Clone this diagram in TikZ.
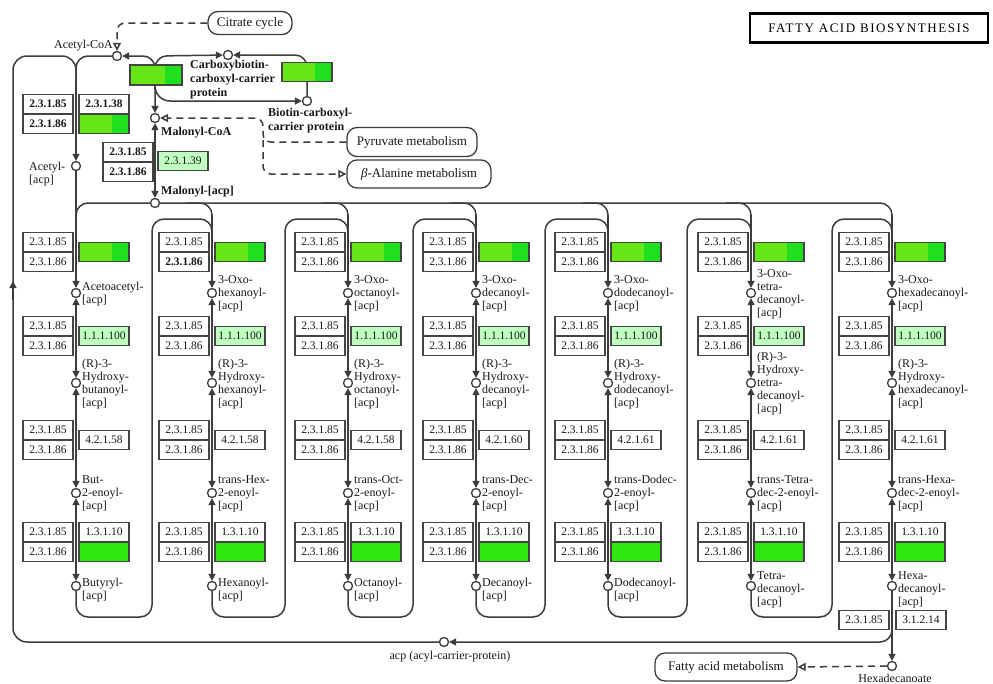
\documentclass[tikz,border=0pt]{standalone}
\usepackage{fontspec}
\setmainfont{Liberation Serif}
\newfontfamily\titlefont[LetterSpace=12]{Liberation Serif}
\usetikzlibrary{arrows.meta,backgrounds}
\definecolor{lc}{HTML}{3C3C3C}
\definecolor{bc}{HTML}{444444}
\definecolor{gA}{HTML}{66E614}
\definecolor{gB}{HTML}{1EE01E}
\definecolor{gD}{HTML}{2DE80C}
\definecolor{gL}{HTML}{C0FFC0}
\definecolor{tc}{HTML}{181818}
\tikzset{
 >={Triangle[length=7pt,width=7pt]},
 ln/.style={draw=lc, line width=1.5pt},
 ec/.style={draw=bc, line width=1.3pt, fill=white, minimum width=50pt, minimum height=19pt, inner sep=0pt, font=\fontsize{11.5}{12}\selectfont, text=tc},
 ecl/.style={ec, fill=gL},
 ecg/.style={ec, fill=gA, path picture={\fill[gB] ([xshift=-17pt]path picture bounding box.north east) rectangle (path picture bounding box.south east);}},
 ecd/.style={ec, fill=gD},
 cpd/.style={circle, draw=lc, line width=1.3pt, fill=white, inner sep=0pt, minimum size=9pt},
 lbl/.style={anchor=west, align=left, font=\fontsize{12}{13}\selectfont, text=tc, inner sep=0pt},
 blbl/.style={lbl, font=\fontsize{12}{14}\selectfont\bfseries},
 pw/.style={draw=lc, line width=1.3pt, rounded corners=10pt, fill=white, font=\fontsize{13}{14}\selectfont, text=tc, inner sep=0pt},
 dsh/.style={ln, dash pattern=on 7pt off 5pt},
 oarr/.style={-{Triangle[open,length=8pt,width=8pt,fill=white]}},
}
\newcommand\fabcol[8]{%
 \node[ec] at (#2-28,242) {2.3.1.85};
 \node[ec] at (#2-28,262) {#8};
 \node[ecg] at (#2+28,252) {};
 \node[ec] at (#2-28,326) {2.3.1.85};
 \node[ec] at (#2-28,346) {2.3.1.86};
 \node[ecl] at (#2+28,336) {1.1.1.100};
 \node[ec] at (#2-28,430) {2.3.1.85};
 \node[ec] at (#2-28,450) {2.3.1.86};
 \node[ec] at (#2+28,440) {#7};
 \node[ec] at (#2-28,532) {2.3.1.85};
 \node[ec] at (#2-28,552) {2.3.1.86};
 \node[ec] at (#2+28,532) {1.3.1.10};
 \node[ecd] at (#2+28,552) {};
 \node[cpd] (#1a) at (#2,293) {};
 \node[cpd] (#1b) at (#2,383) {};
 \node[cpd] (#1c) at (#2,493) {};
 \node[cpd] (#1d) at (#2,586) {};
 \node[lbl] at (#2+6,294) {#3};
 \node[lbl] at (#2+6,384) {#4};
 \node[lbl] at (#2+6,494) {#5};
 \node[lbl] at (#2+6,590) {#6};
 \begin{pgfonlayer}{background}
 \draw[ln,<->] (#1a) -- (#1b);
 \draw[ln,<->] (#1b) -- (#1c);
 \draw[ln,<->] (#1c) -- (#1d);
 \end{pgfonlayer}
}
\begin{document}
\begin{tikzpicture}[x=1pt,y=-1pt]
\begin{pgfonlayer}{background}
\fill[white] (0,0) rectangle (993,683);
\end{pgfonlayer}
\useasboundingbox (0,0) rectangle (993,683);

% title
\node[draw=black, line width=2.4pt, minimum width=238pt, minimum height=29pt, inner sep=0pt] (title) at (869,28) {\titlefont\fontsize{13}{15}\selectfont FATTY ACID BIOSYNTHESIS};

% compounds
\node[cpd] (AcCoA) at (117,56) {};
\node[cpd] (CBCP) at (228,55) {};
\node[cpd] (BCCP) at (307,101) {};
\node[cpd] (MalCoA) at (155,118) {};
\node[cpd] (MalACP) at (155,203) {};
\node[cpd] (AcACP) at (76,166) {};
\node[cpd] (acp) at (444,642) {};
\node[cpd] (hexa) at (892,666) {};

\node[lbl, anchor=east] (lAcCoA) at (113,46) {Acetyl-CoA};
\node[blbl] (lCBCP) at (190,80) {Carboxybiotin-\\carboxyl-carrier\\protein};
\node[blbl] (lBCCP) at (268,121) {Biotin-carboxyl-\\carrier protein};
\node[blbl] (lMalCoA) at (161,133) {Malonyl-CoA};
\node[blbl] (lMalACP) at (161,192) {Malonyl-[acp]};
\node[lbl] (lAcACP) at (29,174) {Acetyl-\\{}[acp]};
\node[lbl, anchor=center] (lacp) at (450,657) {acp (acyl-carrier-protein)};
\node[lbl, anchor=center] (lhexa) at (895,678) {Hexadecanoate};

% pathway boxes
\node[pw, minimum width=84pt, minimum height=23pt] (cit) at (250,23) {Citrate cycle};
\node[pw, minimum width=130pt, minimum height=29pt] (pyr) at (412,142) {Pyruvate metabolism};
\node[pw, minimum width=144pt, minimum height=28pt] (bal) at (419,174) {{\itshape β}-Alanine metabolism};
\node[pw, minimum width=142pt, minimum height=28pt] (fam) at (726,667) {Fatty acid metabolism};

% enzymes top
\node[ecg, minimum width=52pt, minimum height=20pt] (acc1) at (156,75) {};
\node[ecg] (acc2) at (307,72) {};
\node[ec, font=\fontsize{11.5}{12}\selectfont\bfseries] (e1) at (48,104) {2.3.1.85};
\node[ec, font=\fontsize{11.5}{12}\selectfont\bfseries] (e2) at (104,104) {2.3.1.38};
\node[ec, font=\fontsize{11.5}{12}\selectfont\bfseries] (e3) at (48,124) {2.3.1.86};
\node[ecg] (e4) at (104,124) {};
\node[ec, font=\fontsize{11.5}{12}\selectfont\bfseries] (e5) at (128,152) {2.3.1.85};
\node[ec, font=\fontsize{11.5}{12}\selectfont\bfseries] (e6) at (128,172) {2.3.1.86};
\node[ecl] (e7) at (183,161) {2.3.1.39};

% columns
\fabcol{c1}{76}{Acetoacetyl-\\{}[acp]}{(R)-3-\\Hydroxy-\\butanoyl-\\{}[acp]}{But-\\2-enoyl-\\{}[acp]}{Butyryl-\\{}[acp]}{4.2.1.58}{2.3.1.86}
\fabcol{c2}{212}{3-Oxo-\\hexanoyl-\\{}[acp]}{(R)-3-\\Hydroxy-\\hexanoyl-\\{}[acp]}{trans-Hex-\\2-enoyl-\\{}[acp]}{Hexanoyl-\\{}[acp]}{4.2.1.58}{\bfseries 2.3.1.86}
\fabcol{c3}{348}{3-Oxo-\\octanoyl-\\{}[acp]}{(R)-3-\\Hydroxy-\\octanoyl-\\{}[acp]}{trans-Oct-\\2-enoyl-\\{}[acp]}{Octanoyl-\\{}[acp]}{4.2.1.58}{2.3.1.86}
\fabcol{c4}{476}{3-Oxo-\\decanoyl-\\{}[acp]}{(R)-3-\\Hydroxy-\\decanoyl-\\{}[acp]}{trans-Dec-\\2-enoyl-\\{}[acp]}{Decanoyl-\\{}[acp]}{4.2.1.60}{2.3.1.86}
\fabcol{c5}{608}{3-Oxo-\\dodecanoyl-\\{}[acp]}{(R)-3-\\Hydroxy-\\dodecanoyl-\\{}[acp]}{trans-Dodec-\\2-enoyl-\\{}[acp]}{Dodecanoyl-\\{}[acp]}{4.2.1.61}{2.3.1.86}
\fabcol{c6}{751}{3-Oxo-\\tetra-\\decanoyl-\\{}[acp]}{(R)-3-\\Hydroxy-\\tetra-\\decanoyl-\\{}[acp]}{trans-Tetra-\\dec-2-enoyl-\\{}[acp]}{Tetra-\\decanoyl-\\{}[acp]}{4.2.1.61}{2.3.1.86}
\fabcol{c7}{892}{3-Oxo-\\hexadecanoyl-\\{}[acp]}{(R)-3-\\Hydroxy-\\hexadecanoyl-\\{}[acp]}{trans-Hexa-\\dec-2-enoyl-\\{}[acp]}{Hexa-\\decanoyl-\\{}[acp]}{4.2.1.61}{2.3.1.86}
\node[ec] (e8) at (864,620) {2.3.1.85};
\node[ec] (e9) at (921,620) {3.1.2.14};

\begin{pgfonlayer}{background}
% top main line and branches
\draw[ln, rounded corners=12pt] (76,230) -- (76,203) -- (892,203) -- (892,235);
\foreach \x in {212,348,476,608,751}
  \draw[ln, rounded corners=12pt] (\x-25,203) -- (\x,203) -- (\x,235);
% loops
\foreach \xa/\xl/\xb in {76/152/212, 212/285/348, 348/413/476, 476/545/608, 608/687/751, 751/832/892}
  \draw[ln, rounded corners=12pt] (\xa,588) -- (\xa,617) -- (\xl,617) -- (\xl,219) -- (\xb,219) -- (\xb,245);
\draw[ln,->] (212,215) -- (c2a);
\draw[ln,->] (348,215) -- (c3a);
\draw[ln,->] (476,215) -- (c4a);
\draw[ln,->] (608,215) -- (c5a);
\draw[ln,->] (751,215) -- (c6a);
\draw[ln,->] (892,215) -- (c7a);
\draw[ln,->] (AcACP) -- (c1a);
\draw[ln,->] (c7d) -- (hexa);
% acp loop
\draw[ln, rounded corners=12pt, ->] (892,620) -- (892,642) -- (acp);
\draw[ln, rounded corners=14pt] (acp) -- (13,642) -- (13,56) -- (76,56) -- (76,90);
\draw[ln,->] (13,300) -- (13,281);
% acetyl-CoA region
\draw[ln, rounded corners=12pt] (AcCoA) -- (76,56) -- (76,90);
\draw[ln,->] (76,80) -- (AcACP);
\draw[ln, rounded corners=12pt, <->] (AcCoA) -- (155,56) -- (MalCoA);
\draw[ln, rounded corners=12pt, ->] (155,90) -- (155,56) -- (CBCP);
\draw[ln, rounded corners=12pt, ->] (BCCP) -- (307,55) -- (CBCP);
\draw[ln, rounded corners=15pt, ->] (155,70) -- (155,101) -- (BCCP);
\draw[ln,<->] (MalCoA) -- (MalACP);
% dashed
\draw[dsh, rounded corners=8pt, oarr] (cit.west) -- (117,23) -- (AcCoA);
\draw[dsh, rounded corners=8pt, oarr] (pyr.west) -- (263,142) -- (263,118) -- (MalCoA);
\draw[dsh, rounded corners=8pt, oarr] (263,140) -- (263,174) -- (bal.west);
\draw[dsh, oarr] (hexa) -- (fam.east);
\end{pgfonlayer}
\end{tikzpicture}
\end{document}
